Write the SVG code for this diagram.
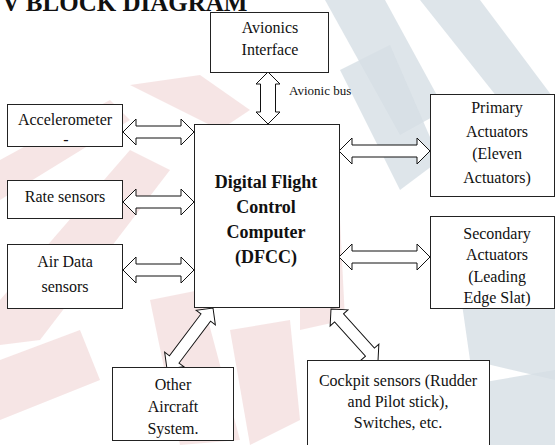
<svg xmlns="http://www.w3.org/2000/svg" width="555" height="445" viewBox="0 0 555 445">
<style>
.box{fill:#fff;stroke:#222;stroke-width:1}
.arr{fill:#fff;stroke:#111;stroke-width:1;stroke-linejoin:miter}
.t{font-size:16px;fill:#111;text-anchor:middle}
.b{font-weight:bold;font-size:18px}
.lbl{font-size:13px;fill:#111}
.wr{fill:#ecc6c6;opacity:0.45}
.wb{fill:#d6dee5;opacity:0.8}
</style>
<rect width="555" height="445" fill="#fff"/>
<g id="watermark">
<polygon class="wb" points="325,0 385,0 445,110 400,135"/>
<polygon class="wb" points="420,0 480,0 555,100 555,170"/>
<polygon class="wb" points="340,70 390,45 440,160 400,190"/>
<polygon class="wb" points="460,290 555,270 555,380 470,360"/>
<polygon class="wb" points="380,400 555,370 555,445 360,445"/>
<polygon class="wr" points="130,85 200,75 250,110 220,130"/>
<polygon class="wr" points="0,300 130,150 170,170 40,340 0,345"/>
<polygon class="wr" points="0,160 110,100 130,120 0,200"/>
<polygon class="wr" points="150,300 200,290 240,440 180,445"/>
<polygon class="wr" points="300,230 340,220 345,320 300,330"/>
<polygon class="wr" points="0,360 80,330 100,380 0,420"/>
<polygon class="wr" points="230,330 290,320 300,420 250,445"/>
</g>
<g font-family="'Liberation Serif', 'Times New Roman', serif">
<text x="2" y="11" font-size="25" font-weight="bold" fill="#111">V BLOCK DIAGRAM</text>
<g id="connectors">
<polygon class="arr" points="268,72 280,84 275.5,84 275.5,112 280,112 268,124 256,112 260.5,112 260.5,84 256,84"/>
<polygon class="arr" points="123,132 136,119 136,126 181,126 181,119 194,132 181,145 181,138 136,138 136,145"/>
<polygon class="arr" points="123,202 136,189 136,196 181,196 181,189 194,202 181,215 181,208 136,208 136,215"/>
<polygon class="arr" points="123,270 136,257 136,264 181,264 181,257 194,270 181,283 181,276 136,276 136,283"/>
<polygon class="arr" points="339,151 352,138 352,145 417,145 417,138 430,151 417,164 417,157 352,157 352,164"/>
<polygon class="arr" points="339,257 352,244 352,251 417,251 417,244 430,257 417,270 417,263 352,263 352,270"/>
<polygon class="arr" transform="translate(167,369) rotate(-52.98)" points="0,0 12,-12 12,-6 64.4,-6 64.4,-12 76.4,0 64.4,12 64.4,6 12,6 12,12"/>
<polygon class="arr" transform="translate(331,309) rotate(47.9)" points="0,0 12,-12 12,-6 58.1,-6 58.1,-12 70.1,0 58.1,12 58.1,6 12,6 12,12"/>
<text class="lbl" x="289" y="95">Avionic bus</text>
</g>
<g id="avionics">
<rect class="box" x="210.5" y="12.5" width="118" height="60"/>
<text class="t" x="270" y="33">Avionics</text>
<text class="t" x="270" y="55">Interface</text>
</g>
<g id="accelerometer">
<rect class="box" x="7.5" y="104.5" width="115" height="42"/>
<text class="t" x="65" y="125">Accelerometer</text>
<text class="t" x="66" y="145" font-size="10">-</text>
</g>
<g id="rate">
<rect class="box" x="7.5" y="180.5" width="115" height="38"/>
<text class="t" x="65" y="202">Rate sensors</text>
</g>
<g id="airdata">
<rect class="box" x="7.5" y="244.5" width="115" height="64"/>
<text class="t" x="65" y="267">Air Data</text>
<text class="t" x="65" y="292">sensors</text>
</g>
<g id="dfcc">
<rect class="box" x="194.5" y="124.5" width="145" height="183"/>
<text class="t b" x="266" y="188">Digital Flight</text>
<text class="t b" x="266" y="213">Control</text>
<text class="t b" x="266" y="238">Computer</text>
<text class="t b" x="266" y="263">(DFCC)</text>
</g>
<g id="primary">
<rect class="box" x="430.5" y="94.5" width="124" height="102"/>
<text class="t" x="497" y="113">Primary</text>
<text class="t" x="497" y="137">Actuators</text>
<text class="t" x="497" y="159">(Eleven</text>
<text class="t" x="497" y="183">Actuators)</text>
</g>
<g id="secondary">
<rect class="box" x="430.5" y="216.5" width="124" height="92"/>
<text class="t" x="497" y="239">Secondary</text>
<text class="t" x="497" y="260">Actuators</text>
<text class="t" x="497" y="282">(Leading</text>
<text class="t" x="497" y="303">Edge Slat)</text>
</g>
<g id="other">
<rect class="box" x="112.5" y="367.5" width="121" height="73"/>
<text class="t" x="173" y="390">Other</text>
<text class="t" x="173" y="412">Aircraft</text>
<text class="t" x="173" y="434">System.</text>
</g>
<g id="cockpit">
<rect class="box" x="307.5" y="360.5" width="182" height="95"/>
<text class="t" x="398" y="386">Cockpit sensors (Rudder</text>
<text class="t" x="398" y="407">and Pilot stick),</text>
<text class="t" x="398" y="428">Switches, etc.</text>
</g>
</g>
</svg>
